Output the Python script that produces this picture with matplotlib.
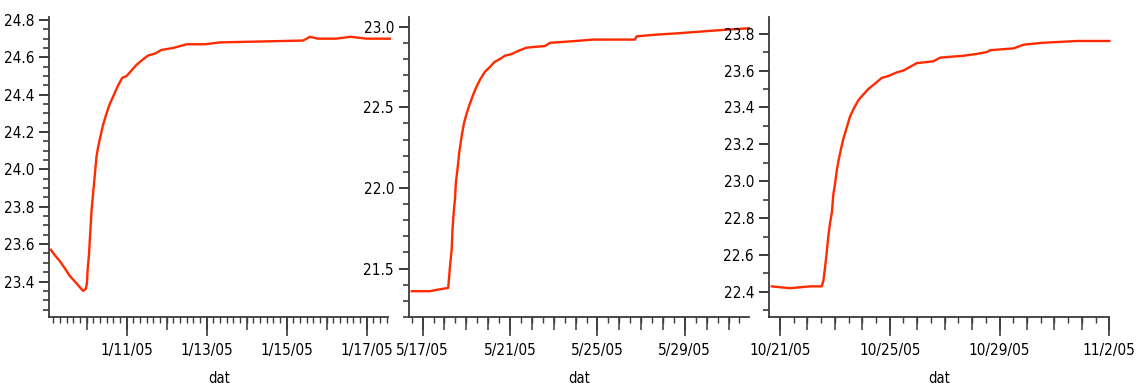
import numpy as np
import pandas as pd
import matplotlib
matplotlib.use('Agg')
import matplotlib.pyplot as plt
import matplotlib.dates as mdates
from matplotlib.ticker import MultipleLocator, FixedLocator, FixedFormatter, NullFormatter

plt.rcParams['font.family'] = ['DejaVu Sans']
plt.rcParams['font.stretch'] = 'condensed'

# ---------------- data (days offset from base date, temperature) ----------------
base_1 = '2005-01-11'
days_1 = [-1.89, -1.79, -1.67, -1.54, -1.42, -1.29, -1.17, -1.085, -1.02, -0.99, -0.97,
          -0.94, -0.91, -0.875, -0.84, -0.81, -0.78, -0.75, -0.71, -0.67, -0.585, -0.50,
          -0.42, -0.335, -0.21, -0.11, 0.0, 0.125, 0.25, 0.415, 0.54, 0.71, 0.875, 1.165,
          1.5, 1.96, 2.33, 4.41, 4.50, 4.58, 4.78, 5.23, 5.60, 6.0, 6.58]
temp_1 = [23.57, 23.54, 23.51, 23.47, 23.43, 23.40, 23.37, 23.35, 23.36, 23.39, 23.47,
          23.54, 23.65, 23.78, 23.86, 23.93, 24.00, 24.07, 24.12, 24.16, 24.24, 24.30,
          24.35, 24.39, 24.45, 24.49, 24.50, 24.53, 24.56, 24.59, 24.61, 24.62, 24.64, 24.65,
          24.67, 24.67, 24.68, 24.69, 24.70, 24.71, 24.70, 24.70, 24.71, 24.70, 24.70]
xtick_dates_1 = ['2005-01-11', '2005-01-13', '2005-01-15', '2005-01-17']
xtick_labels_1 = ['1/11/05', '1/13/05', '1/15/05', '1/17/05']

base_2 = '2005-05-17'
days_2 = [-0.50, 0.33, 0.70, 1.17, 1.25, 1.33, 1.37, 1.43, 1.48, 1.52, 1.58, 1.63, 1.675,
          1.74, 1.81, 1.89, 2.01, 2.13, 2.29, 2.44, 2.62, 2.85, 3.08, 3.28, 3.54, 3.77,
          4.07, 4.375, 4.76, 5.60, 5.83, 6.89, 7.81, 9.72, 9.79, 10.63, 11.78, 12.77,
          13.76, 14.93]
temp_2 = [21.36, 21.36, 21.37, 21.38, 21.51, 21.62, 21.75, 21.86, 21.93, 22.03, 22.10,
          22.16, 22.22, 22.28, 22.34, 22.40, 22.46, 22.51, 22.57, 22.62, 22.67, 22.72,
          22.75, 22.78, 22.80, 22.82, 22.83, 22.85, 22.87, 22.88, 22.90, 22.91, 22.92,
          22.92, 22.94, 22.95, 22.96, 22.97, 22.98, 22.99]
xtick_dates_2 = ['2005-05-17', '2005-05-21', '2005-05-25', '2005-05-29']
xtick_labels_2 = ['5/17/05', '5/21/05', '5/25/05', '5/29/05']

base_3 = '2005-10-21'
days_3 = [-0.30, 0.36, 1.09, 1.52, 1.58, 1.64, 1.70, 1.76, 1.82, 1.89, 1.945, 2.01, 2.07,
          2.13, 2.23, 2.31, 2.43, 2.55, 2.675, 2.86, 3.04, 3.22, 3.47, 3.71, 3.95, 4.26,
          4.50, 4.74, 4.99, 5.59, 5.84, 6.69, 7.18, 7.54, 7.66, 8.51, 8.88, 9.55, 10.83,
          12.0]
temp_3 = [22.43, 22.42, 22.43, 22.43, 22.46, 22.53, 22.61, 22.70, 22.77, 22.83, 22.93,
          22.99, 23.06, 23.11, 23.18, 23.23, 23.29, 23.35, 23.39, 23.44, 23.47, 23.50,
          23.53, 23.56, 23.57, 23.59, 23.60, 23.62, 23.64, 23.65, 23.67, 23.68, 23.69,
          23.70, 23.71, 23.72, 23.74, 23.75, 23.76, 23.76]
xtick_dates_3 = ['2005-10-21', '2005-10-25', '2005-10-29', '2005-11-02']
xtick_labels_3 = ['10/21/05', '10/25/05', '10/29/05', '11/2/05']

x_label = 'dat'

# ---------------- layout / style ----------------
W, H = 1136, 390
fig = plt.figure(figsize=(W / 100, H / 100), dpi=100)

panels = [
    dict(base=base_1, days=days_1, temp=temp_1, tdates=xtick_dates_1, tlabels=xtick_labels_1,
         left=49.3, right=388.3, xlim=(-1.93, 6.54), ylim=(23.21, 24.816),
         ymaj=0.2, ymin=0.05, xmin=1 / 6),
    dict(base=base_2, days=days_2, temp=temp_2, tdates=xtick_dates_2, tlabels=xtick_labels_2,
         left=409.3, right=749.3, xlim=(-0.61, 14.95), ylim=(21.2, 23.06),
         ymaj=0.5, ymin=0.1, xmin=0.5),
    dict(base=base_3, days=days_3, temp=temp_3, tdates=xtick_dates_3, tlabels=xtick_labels_3,
         left=769.3, right=1109.3, xlim=(-0.39, 12.0), ylim=(22.264, 23.89),
         ymaj=0.2, ymin=0.1, xmin=0.5),
]

top_px, bot_px = 17, 317
axcol = '#3a3a3a'
linecol = '#ff2a00'
fs = 11

for p in panels:
    ax = fig.add_axes([p['left'] / W, 1 - bot_px / H, (p['right'] - p['left']) / W,
                       (bot_px - top_px) / H])
    base = pd.Timestamp(p['base'])
    x = mdates.date2num(base + pd.to_timedelta(np.array(p['days']), unit='D'))
    ax.plot(x, p['temp'], color=linecol, lw=1.7, clip_on=False, zorder=3)
    x0 = mdates.date2num(base + pd.Timedelta(days=p['xlim'][0]))
    x1 = mdates.date2num(base + pd.Timedelta(days=p['xlim'][1]))
    ax.set_xlim(x0, x1)
    ax.set_ylim(*p['ylim'])

    for s in ['top', 'right']:
        ax.spines[s].set_visible(False)
    for s in ['left', 'bottom']:
        ax.spines[s].set_color(axcol)
        ax.spines[s].set_linewidth(1.3)

    tpos = mdates.date2num(pd.to_datetime(p['tdates']))
    ax.xaxis.set_major_locator(FixedLocator(tpos))
    ax.xaxis.set_major_formatter(FixedFormatter(p['tlabels']))
    ax.xaxis.set_minor_locator(MultipleLocator(p['xmin']))
    ax.xaxis.set_minor_formatter(NullFormatter())
    ax.yaxis.set_major_locator(MultipleLocator(p['ymaj']))
    ax.yaxis.set_minor_locator(MultipleLocator(p['ymin']))
    ax.yaxis.set_major_formatter(plt.FormatStrFormatter('%.1f'))

    ax.tick_params(axis='x', which='major', length=14, width=1.2, color=axcol,
                   labelsize=fs, pad=5)
    ax.tick_params(axis='x', which='minor', length=4, width=1.0, color=axcol)
    ax.tick_params(axis='y', which='major', length=7, width=1.4, color=axcol,
                   labelsize=fs, pad=4)
    ax.tick_params(axis='y', which='minor', length=4, width=1.2, color=axcol)

    # medium (daily) ticks
    sec = ax.secondary_xaxis('bottom')
    sec.xaxis.set_major_locator(MultipleLocator(1.0))
    sec.xaxis.set_major_formatter(NullFormatter())
    sec.tick_params(axis='x', which='major', length=9, width=1.1, color=axcol)
    sec.spines['bottom'].set_visible(False)

    ax.set_xlabel(x_label, fontsize=fs - 0.5, labelpad=9)
    ax.patch.set_alpha(0)

fig.savefig('out.png', dpi=100)
